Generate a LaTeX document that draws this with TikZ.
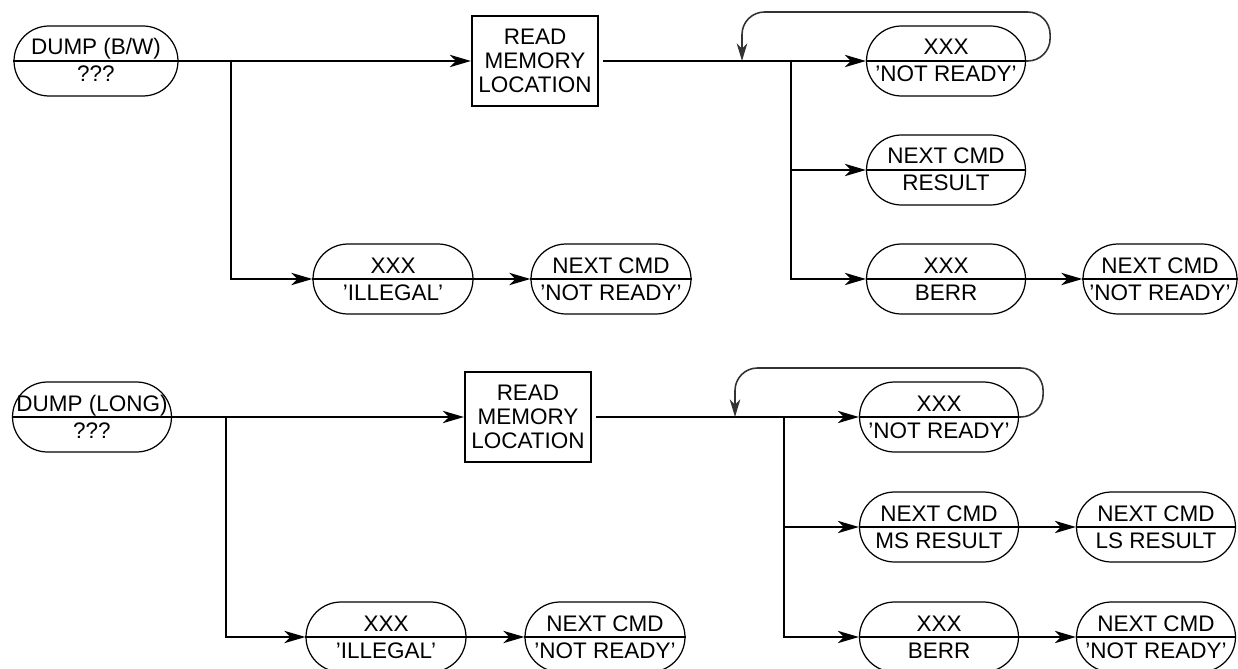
\documentclass[tikz,border=0pt]{standalone}
\usepackage{fontspec}
\setmainfont{Liberation Sans}
\usetikzlibrary{shapes.misc,arrows.meta,positioning,calc}

\tikzset{
  state/.style={rounded rectangle, draw, line width=0.7pt, minimum height=1.4cm, inner sep=0pt},
  readbox/.style={draw, line width=1.2pt, minimum width=2.52cm, minimum height=1.8cm, inner sep=0pt,
    align=center, font=\fontsize{12.8}{13.6}\selectfont},
  flow/.style={line width=1.2pt, -{Stealth[length=12pt,width=7pt,inset=3.5pt]}},
  loopback/.style={line width=0.9pt, black!80, rounded corners=0.45cm,
    -{Stealth[length=10pt,width=6pt,inset=3pt]}},
  divider/.style={line width=1.2pt},
  lbl/.style={font=\fontsize{12.8}{14}\selectfont, inner sep=0pt, anchor=base},
}

% state: name, position, width, upper text, lower text
\newcommand{\statebox}[5]{%
  \node[state, minimum width=#3] (#1) at (#2) {};
  \draw[divider] (#1.west) -- (#1.east);
  \node[lbl] (#1-up) at ($(#1.center)+(0,-6)$) {#4};
  \node[lbl] (#1-lo) at ($(#1.center)+(0,21)$) {#5};
}

\begin{document}
\begin{tikzpicture}[x=0.02cm, y=-0.02cm]
\useasboundingbox (0,0) rectangle (1238,669);

% ================= TOP: DUMP (B/W) =================
\statebox{dumpbw}{96,61}{3.28cm}{DUMP (B/W)}{???}
\node[readbox] (readbw) at (535,61) {READ\\MEMORY\\LOCATION};
\statebox{illegalbw}{393,279}{3.2cm}{XXX}{'ILLEGAL'}
\statebox{illnextbw}{611,279}{3.2cm}{NEXT CMD}{'NOT READY'}
\statebox{notreadybw}{946,61}{3.18cm}{XXX}{'NOT READY'}
\statebox{resultbw}{946,170}{3.18cm}{NEXT CMD}{RESULT}
\statebox{berrbw}{946,279}{3.18cm}{XXX}{BERR}
\statebox{berrnextbw}{1160,279}{3.08cm}{NEXT CMD}{'NOT READY'}

\coordinate (forkbw) at (231,61);
\coordinate (branchbw) at (791,61);
\coordinate (loopbw) at (742,61);

\draw[flow] (dumpbw.east) -- (readbw.west);
\draw[flow] (forkbw) |- (illegalbw.west);
\draw[flow] (illegalbw.east) -- (illnextbw.west);
\draw[flow, shorten <=0.08cm] (readbw.east) -- (notreadybw.west);
\draw[flow] (branchbw) |- (resultbw.west);
\draw[flow] (branchbw) |- (berrbw.west);
\draw[flow] (berrbw.east) -- (berrnextbw.west);
\draw[loopback] (notreadybw.east) -- ++(24,0) -- ++(0,-49) -| (loopbw);

% ================= BOTTOM: DUMP (LONG) =================
\statebox{dumplong}{92,417}{3.18cm}{DUMP (LONG)}{???}
\node[readbox] (readlong) at (528,417) {READ\\MEMORY\\LOCATION};
\statebox{illegallong}{386,637}{3.2cm}{XXX}{'ILLEGAL'}
\statebox{illnextlong}{605,637}{3.2cm}{NEXT CMD}{'NOT READY'}
\statebox{notreadylong}{939,417}{3.18cm}{XXX}{'NOT READY'}
\statebox{mslong}{939,527}{3.18cm}{NEXT CMD}{MS RESULT}
\statebox{lslong}{1156,527}{3.18cm}{NEXT CMD}{LS RESULT}
\statebox{berrlong}{939,637}{3.18cm}{XXX}{BERR}
\statebox{berrnextlong}{1156,637}{3.18cm}{NEXT CMD}{'NOT READY'}

\coordinate (forklong) at (226,417);
\coordinate (branchlong) at (784,417);
\coordinate (looplong) at (735,417);

\draw[flow] (dumplong.east) -- (readlong.west);
\draw[flow] (forklong) |- (illegallong.west);
\draw[flow] (illegallong.east) -- (illnextlong.west);
\draw[flow, shorten <=0.08cm] (readlong.east) -- (notreadylong.west);
\draw[flow] (branchlong) |- (mslong.west);
\draw[flow] (mslong.east) -- (lslong.west);
\draw[flow] (branchlong) |- (berrlong.west);
\draw[flow] (berrlong.east) -- (berrnextlong.west);
\draw[loopback] (notreadylong.east) -- ++(24,0) -- ++(0,-49) -| (looplong);

\end{tikzpicture}
\end{document}
